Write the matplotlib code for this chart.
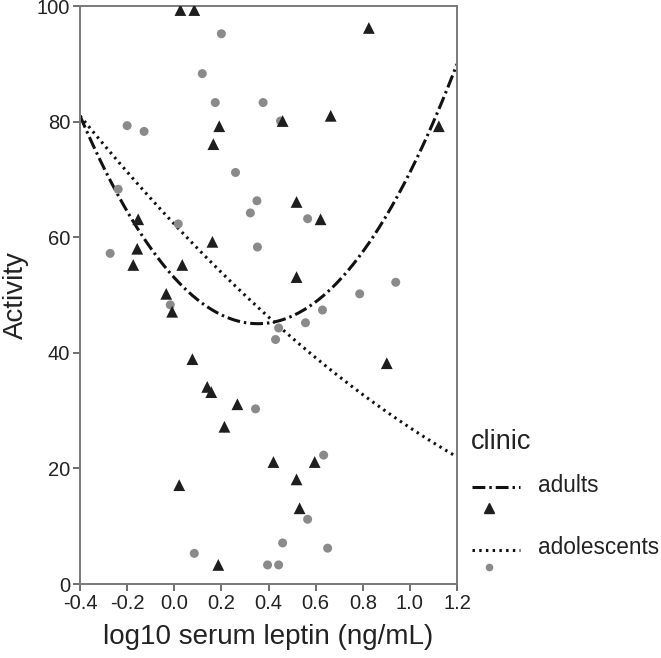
import numpy as np
import matplotlib
matplotlib.use("Agg")
import matplotlib.pyplot as plt
from matplotlib.lines import Line2D

plt.rcParams['font.family'] = ['Liberation Sans', 'DejaVu Sans']

adults_x = [0.026, 0.085, 0.826, 0.191, 0.166, 0.664, 1.123, 0.46, 0.519, 0.621,
            0.519, 0.902, -0.153, -0.157, -0.174, 0.034, 0.162, -0.034, -0.009, 0.077,
            0.14, 0.157, 0.268, 0.213, 0.021, 0.187, 0.421, 0.596, 0.519, 0.532]
adults_y = [99.3, 99.3, 96.2, 79.2, 76.1, 81.0, 79.2, 80.1, 66.1, 63.1,
            53.1, 38.2, 63.1, 58.0, 55.2, 55.2, 59.2, 50.2, 47.1, 38.9,
            34.1, 33.2, 31.1, 27.2, 17.1, 3.3, 21.1, 21.1, 18.1, 13.1]

adol_x = [0.2, 0.119, 0.174, -0.2, -0.128, 0.26, -0.238, 0.377, 0.351, 0.451,
          -0.272, 0.017, 0.323, 0.353, -0.017, 0.566, 0.94, 0.787, 0.629, 0.557,
          0.443, 0.43, 0.345, 0.085, 0.634, 0.566, 0.46, 0.651, 0.396, 0.443]
adol_y = [95.2, 88.3, 83.3, 79.3, 78.3, 71.2, 68.3, 83.3, 66.3, 80.1,
          57.2, 62.3, 64.2, 58.3, 48.3, 63.2, 52.2, 50.2, 47.4, 45.2,
          44.3, 42.3, 30.3, 5.3, 22.3, 11.2, 7.1, 6.2, 3.3, 3.3]

# quadratic fit-line coefficients (highest power first)
adults_fit = [63.0, -44.8, 53.0]
adol_fit = [8.28, -43.5, 62.27]

x_ticks = [-0.4, -0.2, 0.0, 0.2, 0.4, 0.6, 0.8, 1.0, 1.2]
y_ticks = [0, 20, 40, 60, 80, 100]

DASHDOT = (4.2, 1.3, 0.8, 1.3)
DOTTED = (0.8, 1.4)

fig = plt.figure(figsize=(6.61, 6.58), dpi=100)
ax = fig.add_axes([80/661, 74/658, 377/661, 578/658])

xx = np.linspace(-0.4, 1.2, 300)
ax.plot(xx, np.polyval(adults_fit, xx), color='#111111', lw=2.2, dashes=DASHDOT, zorder=2)
ax.plot(xx, np.polyval(adol_fit, xx), color='#111111', lw=2.2, dashes=DOTTED, zorder=2)

ax.scatter(adol_x, adol_y, marker='o', s=42, color='#8a8a8a', edgecolors='none', zorder=3)
ax.scatter(adults_x, adults_y, marker='^', s=72, color='#1e1e1e', edgecolors='none', zorder=4)

ax.set_xlim(-0.4, 1.2)
ax.set_ylim(0, 100)
ax.set_xticks(x_ticks)
ax.set_xticklabels([f"{v:.1f}" for v in x_ticks])
ax.set_yticks(y_ticks)
ax.tick_params(axis='both', labelsize=14.5, color='#555555', length=5, width=1.2,
               labelcolor='#222222', pad=2)
ax.tick_params(top=False, right=False)
for s in ax.spines.values():
    s.set_color('#7a7a7a')
    s.set_linewidth(1.4)
ax.set_xlabel("log10 serum leptin (ng/mL)", fontsize=20, color='#222222', labelpad=8)
ax.set_ylabel("Activity", fontsize=20, color='#222222', labelpad=6)

# legend
fig.text(471/661, 1 - 442/658, "clinic", fontsize=19.5, va='center', ha='left', color='#222222')
fig.add_artist(Line2D([472/661, 520/661], [1 - 487/658]*2, color='#111111', lw=2.2,
                      dashes=DASHDOT))
fig.text(538/661, 1 - 485/658, "adults", fontsize=16.3, va='center', ha='left', color='#222222')
fig.add_artist(Line2D([489/661], [1 - 508/658], marker='^', markersize=7, color='#1e1e1e', lw=0))
fig.add_artist(Line2D([472/661, 520/661], [1 - 550/658]*2, color='#111111', lw=2.2,
                      dashes=DOTTED))
fig.text(538/661, 1 - 547/658, "adolescents", fontsize=16.3, va='center', ha='left', color='#222222')
fig.add_artist(Line2D([489/661], [1 - 567/658], marker='o', markersize=5.5, color='#8a8a8a',
                      markeredgecolor='none', lw=0))

fig.savefig("out.png", dpi=100)
